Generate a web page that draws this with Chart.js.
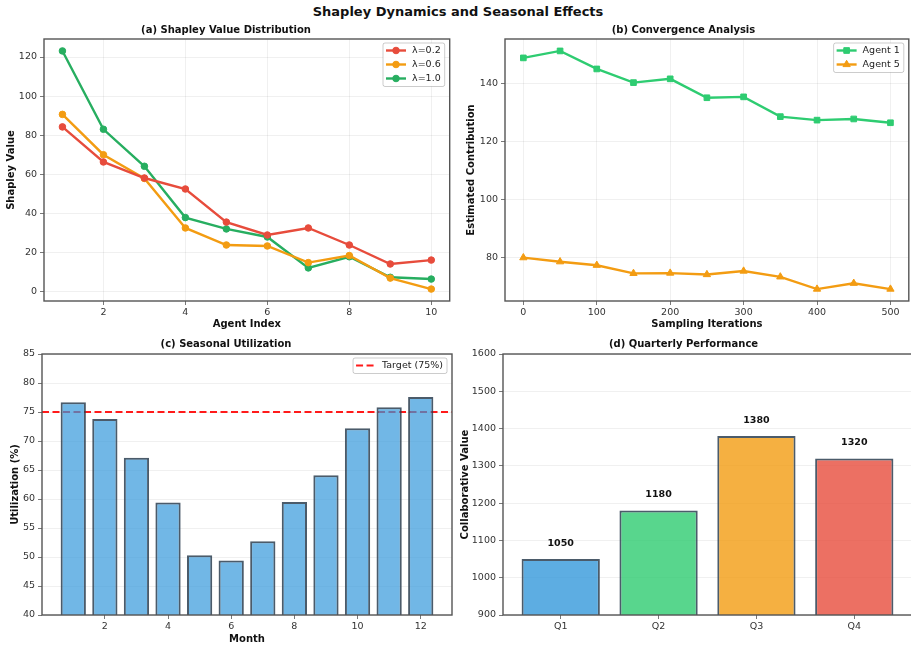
<!DOCTYPE html>
<html>
<head>
<meta charset="utf-8">
<script src="https://cdn.jsdelivr.net/npm/chart.js@4.4.0/dist/chart.umd.min.js"></script>
<style>
  html, body { margin: 0; padding: 0; background: #fff; overflow: hidden; width: 911px; height: 647px; position: relative; }
  #mainTitle { position: absolute; left: 0; top: 4px; width: 916px; text-align: center; font: bold 13px "DejaVu Sans"; line-height: 15px; color: #111; }
  canvas { position: absolute; }
</style>
</head>
<body>
<div id="mainTitle">Shapley Dynamics and Seasonal Effects</div>
<canvas id="ca" width="454" height="309" style="left:0px;top:21px"></canvas>
<canvas id="cb" width="459" height="309" style="left:455px;top:21px"></canvas>
<canvas id="cc" width="454" height="307" style="left:0px;top:338px"></canvas>
<canvas id="cd" width="459" height="307" style="left:455px;top:338px"></canvas>
<script>
// (a) Shapley value distribution
const agentIdx = [1, 2, 3, 4, 5, 6, 7, 8, 9, 10];
const lam02 = [84.3, 66.4, 58.2, 52.6, 35.7, 29.1, 32.7, 24.0, 14.3, 16.3];
const lam06 = [90.7, 70.1, 58.0, 32.7, 24.0, 23.5, 15.0, 18.6, 7.1, 1.5];
const lam10 = [123.1, 83.1, 64.2, 38.0, 32.2, 28.1, 12.3, 18.0, 7.5, 6.6];
const agentTicks = [2, 4, 6, 8, 10];
const shapleyTicks = [0, 20, 40, 60, 80, 100, 120];

// (b) convergence
const iterations = [0, 50, 100, 150, 200, 250, 300, 350, 400, 450, 500];
const agent1 = [148.8, 151.2, 145.0, 140.3, 141.6, 135.1, 135.4, 128.6, 127.4, 127.8, 126.5];
const agent5 = [80.1, 78.7, 77.5, 74.7, 74.8, 74.3, 75.5, 73.5, 69.3, 71.3, 69.3];
const iterTicks = [0, 100, 200, 300, 400, 500];
const contribTicks = [80, 100, 120, 140];

// (c) seasonal utilization
const months = [1, 2, 3, 4, 5, 6, 7, 8, 9, 10, 11, 12];
const utilization = [76.7, 73.8, 67.1, 59.4, 50.3, 49.4, 52.7, 59.5, 64.1, 72.2, 75.8, 77.6];
const targetUtil = 75;
const monthTicks = [2, 4, 6, 8, 10, 12];
const utilTicks = [40, 45, 50, 55, 60, 65, 70, 75, 80, 85];

// (d) quarterly performance
const quarters = ['Q1', 'Q2', 'Q3', 'Q4'];
const quarterValues = [1050, 1180, 1380, 1320];
const valueTicks = [900, 1000, 1100, 1200, 1300, 1400, 1500, 1600];

Chart.defaults.font.family = '"DejaVu Sans"';
Chart.defaults.animation = false;

const pts = (xs, ys) => xs.map((x, i) => ({ x: x, y: ys[i] }));

// one linear axis, sized by hand so the plot boxes line up
function axis(o) {
  return {
    type: 'linear',
    min: o.min,
    max: o.max,
    offset: false,
    afterBuildTicks: s => { s.ticks = o.ticks.map(v => ({ value: v })); },
    afterFit: s => { if (o.width) s.width = o.width; if (o.height) s.height = o.height; },
    grid: {
      offset: false,
      color: o.grid === false ? 'rgba(0,0,0,0)' : 'rgba(0,0,0,0.08)',
      lineWidth: 0.8,
      tickColor: '#555',
      tickLength: 4,
      drawTicks: true
    },
    border: { display: false },
    ticks: {
      color: '#333',
      font: { size: 9.5 },
      padding: o.height ? 2 : 3,
      autoSkip: false,
      maxRotation: 0,
      callback: o.callback
    },
    title: {
      display: !!o.title,
      text: o.title,
      color: '#111',
      font: { size: 10, weight: 'bold' },
      padding: o.titlePad || 0
    }
  };
}

function panelTitle(text, top, bottom) {
  return { display: true, text: text, color: '#111', font: { size: 10, weight: 'bold' }, padding: { top: top, bottom: bottom } };
}

// matplotlib-style box around the axes
const frame = {
  id: 'frame',
  afterDraw(chart) {
    const { ctx, chartArea: a } = chart;
    ctx.save();
    ctx.strokeStyle = '#555';
    ctx.lineWidth = 1.4;
    ctx.strokeRect(a.left, a.top, a.right - a.left, a.bottom - a.top);
    ctx.restore();
  }
};

// legend box in the upper right, line sample with marker in the middle
const mplLegend = {
  id: 'mplLegend',
  afterDraw(chart, args, opts) {
    if (!opts.display) return;
    const ctx = chart.ctx, a = chart.chartArea;
    const items = chart.data.datasets.filter(d => !d.hideInLegend);
    ctx.save();
    ctx.font = '9.5px "DejaVu Sans"';
    const tw = Math.max(...items.map(d => ctx.measureText(d.label).width));
    const w = 3 + 20 + 6 + tw + 4, h = items.length * 14 + 1.5;
    const x0 = a.right - 5 - w, y0 = a.top + 4;
    ctx.fillStyle = 'rgba(255,255,255,0.85)';
    ctx.strokeStyle = 'rgba(0,0,0,0.2)';
    ctx.lineWidth = 1;
    ctx.beginPath();
    ctx.roundRect(x0, y0, w, h, 2);
    ctx.fill();
    ctx.stroke();
    items.forEach((d, i) => {
      const cy = y0 + 7.5 + i * 14;
      ctx.strokeStyle = d.borderColor;
      ctx.lineWidth = d.borderWidth;
      ctx.setLineDash(d.borderDash || []);
      ctx.beginPath();
      ctx.moveTo(x0 + 3, cy);
      ctx.lineTo(x0 + 23, cy);
      ctx.stroke();
      ctx.setLineDash([]);
      if (d.pointRadius) {
        ctx.fillStyle = d.backgroundColor;
        ctx.strokeStyle = d.borderColor;
        ctx.lineWidth = 1;
        Chart.helpers.drawPoint(ctx, { pointStyle: d.pointStyle || 'circle', radius: d.pointRadius, rotation: 0, borderWidth: 1 }, x0 + 13, cy);
      }
      ctx.fillStyle = '#222';
      ctx.textAlign = 'left';
      ctx.textBaseline = 'middle';
      ctx.fillText(d.label, x0 + 29, cy);
    });
    ctx.restore();
  }
};

// value labels above the quarterly bars
const barLabels = {
  id: 'barLabels',
  afterDatasetsDraw(chart) {
    const ctx = chart.ctx, y = chart.scales.y;
    const meta = chart.getDatasetMeta(0);
    ctx.save();
    ctx.font = 'bold 9.5px "DejaVu Sans"';
    ctx.fillStyle = '#111';
    ctx.textAlign = 'center';
    ctx.textBaseline = 'bottom';
    meta.data.forEach((bar, i) => {
      ctx.fillText(String(quarterValues[i]), bar.x, y.getPixelForValue(quarterValues[i] + 30));
    });
    ctx.restore();
  }
};

function lineSet(label, xs, ys, color, style, r) {
  return {
    label: label, data: pts(xs, ys),
    borderColor: color, backgroundColor: color, borderWidth: 2.4,
    pointStyle: style, pointRadius: r, pointBorderWidth: 1, pointHoverRadius: r,
    tension: 0, fill: false
  };
}

// (a)
new Chart(document.getElementById('ca'), {
  type: 'line',
  data: {
    datasets: [
      lineSet('λ=0.2', agentIdx, lam02, '#e74c3c', 'circle', 3.3),
      lineSet('λ=0.6', agentIdx, lam06, '#f39c12', 'circle', 3.3),
      lineSet('λ=1.0', agentIdx, lam10, '#27ae60', 'circle', 3.3)
    ]
  },
  options: {
    responsive: false,
    devicePixelRatio: 1,
    layout: { padding: { right: 2 } },
    scales: {
      x: axis({ min: 0.55, max: 10.45, ticks: agentTicks, height: 29, title: 'Agent Index', titlePad: { top: 0, bottom: 0 } }),
      y: axis({ min: -4.6, max: 129.2, ticks: shapleyTicks, width: 44, title: 'Shapley Value', titlePad: { top: 5, bottom: 0 } })
    },
    plugins: {
      legend: { display: false },
      tooltip: { enabled: false },
      title: panelTitle('(a) Shapley Value Distribution', 3, 3),
      mplLegend: { display: true }
    }
  },
  plugins: [frame, mplLegend]
});

// (b)
new Chart(document.getElementById('cb'), {
  type: 'line',
  data: {
    datasets: [
      lineSet('Agent 1', iterations, agent1, '#2ecc71', 'rect', 4),
      lineSet('Agent 5', iterations, agent5, '#f39c12', 'triangle', 4.2)
    ]
  },
  options: {
    responsive: false,
    devicePixelRatio: 1,
    layout: { padding: { right: 2 } },
    scales: {
      x: axis({ min: -25, max: 525, ticks: iterTicks, height: 29, title: 'Sampling Iterations', titlePad: { top: 0, bottom: 0 } }),
      y: axis({ min: 65.2, max: 155.3, ticks: contribTicks, width: 50, title: 'Estimated Contribution', titlePad: { top: 10, bottom: 0 } })
    },
    plugins: {
      legend: { display: false },
      tooltip: { enabled: false },
      title: panelTitle('(b) Convergence Analysis', 3, 3),
      mplLegend: { display: true }
    }
  },
  plugins: [frame, mplLegend]
});

// (c)
new Chart(document.getElementById('cc'), {
  type: 'bar',
  data: {
    datasets: [
      {
        type: 'bar', label: 'Utilization', hideInLegend: true,
        data: pts(months, utilization),
        backgroundColor: 'rgba(52,152,219,0.7)',
        borderColor: 'rgba(44,62,80,0.85)', borderWidth: 2, borderSkipped: false,
        barPercentage: 0.8, categoryPercentage: 1.0
      },
      {
        type: 'line', label: 'Target (75%)',
        data: [{ x: 0.01, y: targetUtil }, { x: 12.99, y: targetUtil }],
        borderColor: '#ff1a1a', backgroundColor: '#ff1a1a', borderWidth: 2,
        borderDash: [7, 3.5], pointRadius: 0
      }
    ]
  },
  options: {
    responsive: false,
    devicePixelRatio: 1,
    layout: { padding: { right: 2 } },
    scales: {
      x: axis({ min: 0.01, max: 12.99, ticks: monthTicks, height: 30, grid: false, title: 'Month', titlePad: { top: 0, bottom: 0 } }),
      y: axis({ min: 40, max: 85, ticks: utilTicks, width: 42, title: 'Utilization (%)', titlePad: { top: 9.7, bottom: 0 } })
    },
    plugins: {
      legend: { display: false },
      tooltip: { enabled: false },
      title: panelTitle('(c) Seasonal Utilization', 0, 4),
      mplLegend: { display: true }
    }
  },
  plugins: [frame, mplLegend]
});

// (d)
new Chart(document.getElementById('cd'), {
  type: 'bar',
  data: {
    datasets: [{
      label: 'Collaborative Value',
      data: pts([0, 1, 2, 3], quarterValues),
      backgroundColor: ['rgba(52,152,219,0.8)', 'rgba(46,204,113,0.8)', 'rgba(243,156,18,0.8)', 'rgba(231,76,60,0.8)'],
      borderColor: 'rgba(44,62,80,0.85)', borderWidth: 2, borderSkipped: false,
      barPercentage: 0.8, categoryPercentage: 1.0
    }]
  },
  options: {
    responsive: false,
    devicePixelRatio: 1,
    layout: { padding: { right: 2 } },
    scales: {
      x: axis({ min: -0.59, max: 3.59, ticks: [0, 1, 2, 3], height: 30, grid: false, callback: v => quarters[v] }),
      y: axis({ min: 900, max: 1600, ticks: valueTicks, width: 48, title: 'Collaborative Value', titlePad: { top: 4.7, bottom: 0 } })
    },
    plugins: {
      legend: { display: false },
      tooltip: { enabled: false },
      title: panelTitle('(d) Quarterly Performance', 0, 4)
    }
  },
  plugins: [frame, barLabels]
});
</script>
</body>
</html>
